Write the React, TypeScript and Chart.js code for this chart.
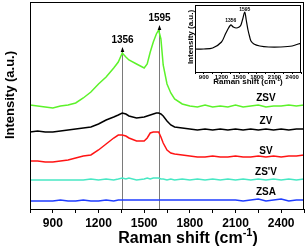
import React, { useEffect, useRef } from "react";
import { Chart, registerables } from "chart.js";

Chart.register(...registerables);

// ---------- data (main panel) ----------
const ramanShift = [
  750, 800, 850, 900, 950, 1000, 1050, 1100, 1150, 1200, 1250, 1300, 1330, 1356, 1380,
  1400, 1450, 1500, 1520, 1540, 1560, 1580, 1595, 1610, 1625, 1650, 1675, 1700, 1750,
  1800, 1850, 1900, 1950, 2000, 2050, 2100, 2150, 2200, 2250, 2300, 2350, 2400, 2450,
  2500, 2550,
];
const zsvIntensity = [
  104, 103, 102, 101, 103, 104, 106, 111, 117, 125, 132, 141, 147, 156, 152,
  149, 145, 141, 145, 157, 167, 175, 179, 170, 144, 125, 116, 110, 105,
  103, 102, 104, 102, 103, 102, 104, 102, 103, 104, 102, 103, 103, 104,
  103, 104,
];
const zvIntensity = [
  77, 78, 77, 77, 78, 79, 80, 81, 82, 85, 89, 92, 94, 96, 95,
  93, 91, 92, 93, 94, 95, 96, 96, 95, 93, 88, 84, 82, 81,
  80, 79, 80, 79, 80, 79, 80, 79, 80, 79, 80, 79, 80, 79,
  80, 80,
];
const svIntensity = [
  48, 48, 47, 47, 48, 49, 51, 53, 54, 59, 65, 71, 74, 74, 73,
  71, 68, 68, 71, 76, 77, 77, 77, 72, 66, 59, 56, 55, 54,
  53, 52, 52, 53, 52, 52, 53, 52, 52, 53, 52, 53, 52, 53,
  53, 54,
];
const zsPrimeVIntensity = [
  29, 29, 29, 29, 29, 29, 29, 29, 30, 29, 30, 29, 30, 31, 30,
  31, 29, 30, 31, 30, 31, 31, 31, 30, 30, 29, 30, 29, 30,
  29, 30, 29, 30, 29, 30, 29, 30, 29, 30, 29, 30, 29, 30,
  29, 30,
];
const zsaIntensity = [
  8, 8, 8, 8, 9, 8, 8, 9, 8, 8, 9, 8, 9, 9, 9,
  9, 9, 9, 9, 9, 9, 9, 9, 9, 9, 9, 9, 9, 9,
  9, 9, 9, 9, 9, 9, 9, 8, 9, 10, 8, 9, 10, 8,
  9, 9,
];
const seriesNames = ["ZSV", "ZV", "SV", "ZS'V", "ZSA"];
const seriesValues = [zsvIntensity, zvIntensity, svIntensity, zsPrimeVIntensity, zsaIntensity];
const seriesColors = ["#5cf22a", "#000000", "#ff1414", "#48e8c4", "#1f3dff"];
const seriesLabelY = [111, 88, 58, 37, 17];
const seriesLabelX = 2300;

const peakShifts = [1356, 1595];
const peakLabels = ["1356", "1595"];
const peakTips = [161, 183];

// ---------- data (inset) ----------
const insetShift = [
  750, 900, 1050, 1200, 1275, 1356, 1400, 1450, 1500, 1530, 1560, 1595, 1620, 1650,
  1675, 1700, 1750, 1850, 2000, 2200, 2400, 2550,
];
const insetIntensity = [
  23, 23, 24, 30, 39, 47, 45, 44, 45, 47, 53, 60, 52, 42,
  36, 31, 28, 26, 25, 25, 26, 29,
];
const insetPeakLabelY = [51, 62];

const xMin = 750;
const xMax = 2550;
const FONT = "'Liberation Sans', Arial, sans-serif";

function drawSupText(
  ctx: CanvasRenderingContext2D,
  cx: number,
  baseline: number,
  size: number,
  pre: string,
  sup: string,
  post: string
) {
  const big = `bold ${size}px ${FONT}`;
  const small = `bold ${Math.round(size * 0.68)}px ${FONT}`;
  ctx.font = big;
  const w1 = ctx.measureText(pre).width;
  const w3 = ctx.measureText(post).width;
  ctx.font = small;
  const w2 = ctx.measureText(sup).width;
  let x = cx - (w1 + w2 + w3) / 2;
  ctx.textAlign = "left";
  ctx.textBaseline = "alphabetic";
  ctx.font = big;
  ctx.fillText(pre, x, baseline);
  x += w1;
  ctx.font = small;
  ctx.fillText(sup, x, baseline - size * 0.42);
  x += w2;
  ctx.font = big;
  ctx.fillText(post, x, baseline);
}

const mainDecor = {
  id: "mainDecor",
  beforeDatasetsDraw(chart: any) {
    const { ctx, chartArea: a, scales } = chart;
    const x = scales.x;
    const y = scales.y;
    ctx.save();
    ctx.strokeStyle = "#7a7a7a";
    ctx.lineWidth = 1;
    peakShifts.forEach((p, i) => {
      const px = Math.round(x.getPixelForValue(p)) + 0.5;
      const top = y.getPixelForValue(peakTips[i]);
      ctx.beginPath();
      ctx.moveTo(px, a.bottom);
      ctx.lineTo(px, top + 2);
      ctx.stroke();
    });
    ctx.restore();
  },
  afterDraw(chart: any) {
    const { ctx, chartArea: a, scales } = chart;
    const x = scales.x;
    const y = scales.y;
    ctx.save();
    // frame
    ctx.strokeStyle = "#000";
    ctx.lineWidth = 1;
    ctx.strokeRect(Math.round(a.left) + 0.5, Math.round(a.top) + 0.5, Math.round(a.right - a.left) - 1, Math.round(a.bottom - a.top));
    // arrowheads & peak labels
    ctx.fillStyle = "#000";
    peakShifts.forEach((p, i) => {
      const px = Math.round(x.getPixelForValue(p)) + 0.5;
      const top = y.getPixelForValue(peakTips[i]);
      ctx.beginPath();
      ctx.moveTo(px, top - 1);
      ctx.lineTo(px - 1.8, top + 4);
      ctx.lineTo(px + 1.8, top + 4);
      ctx.closePath();
      ctx.fill();
      ctx.font = `bold 10px ${FONT}`;
      ctx.textAlign = "center";
      ctx.textBaseline = "middle";
      ctx.fillText(peakLabels[i], px, top - 8);
    });
    // series labels
    ctx.font = `bold 10px ${FONT}`;
    ctx.textAlign = "center";
    ctx.textBaseline = "middle";
    seriesNames.forEach((n, i) => {
      ctx.fillText(n, x.getPixelForValue(seriesLabelX), y.getPixelForValue(seriesLabelY[i]));
    });
    // x title
    drawSupText(ctx, 188, 243, 16, "Raman shift (cm", "-1", ")");
    // y title
    ctx.translate(14, 95);
    ctx.rotate(-Math.PI / 2);
    ctx.font = `bold 13px ${FONT}`;
    ctx.textAlign = "center";
    ctx.textBaseline = "alphabetic";
    ctx.fillText("Intensity (a.u.)", 0, 0);
    ctx.restore();
  },
};

const insetDecor = {
  id: "insetDecor",
  beforeDraw(chart: any) {
    const { ctx, chartArea: a } = chart;
    ctx.save();
    ctx.fillStyle = "#fff";
    ctx.fillRect(a.left, a.top, a.right - a.left, a.bottom - a.top);
    ctx.restore();
  },
  afterDraw(chart: any) {
    const { ctx, chartArea: a, scales } = chart;
    const x = scales.x;
    const y = scales.y;
    ctx.save();
    ctx.strokeStyle = "#000";
    ctx.lineWidth = 1;
    ctx.strokeRect(Math.round(a.left) + 0.5, Math.round(a.top) + 0.5, Math.round(a.right - a.left) - 1, Math.round(a.bottom - a.top));
    ctx.fillStyle = "#000";
    ctx.font = `bold 5px ${FONT}`;
    ctx.textAlign = "center";
    ctx.textBaseline = "middle";
    peakShifts.forEach((p, i) => {
      ctx.fillText(peakLabels[i], x.getPixelForValue(p), y.getPixelForValue(insetPeakLabelY[i]));
    });
    drawSupText(ctx, 68, 84, 8, "Raman shift (cm", "-1", ")");
    ctx.translate(12.5, 37);
    ctx.rotate(-Math.PI / 2);
    ctx.font = `bold 8px ${FONT}`;
    ctx.textAlign = "center";
    ctx.textBaseline = "alphabetic";
    ctx.fillText("Intensity (a.u.)", 0, 0);
    ctx.restore();
  },
};

export default function App() {
  const mainRef = useRef<HTMLCanvasElement | null>(null);
  const insetRef = useRef<HTMLCanvasElement | null>(null);

  useEffect(() => {
    const main = new Chart(mainRef.current as HTMLCanvasElement, {
      type: "line",
      data: {
        datasets: seriesNames.map((n, i) => ({
          label: n,
          data: ramanShift.map((s, k) => ({ x: s, y: seriesValues[i][k] })),
          borderColor: seriesColors[i],
          borderWidth: 1.5,
          pointRadius: 0,
          tension: 0,
          fill: false,
        })),
      },
      options: {
        responsive: false,
        animation: false,
        events: [],
        layout: { padding: { left: 30, right: 2, top: 2, bottom: 0 } },
        plugins: { legend: { display: false }, tooltip: { enabled: false }, title: { display: false } },
        scales: {
          x: {
            type: "linear",
            min: xMin,
            max: xMax,
            afterFit: (s: any) => {
              s.height = 39;
            },
            ticks: {
              stepSize: 150,
              autoSkip: false,
              maxRotation: 0,
              padding: 3,
              color: "#000",
              font: { family: FONT, weight: "bold", size: 12 },
              callback: (v: any) => (Number(v) % 300 === 0 ? String(v) : ""),
            },
            grid: { drawOnChartArea: false, drawTicks: true, tickLength: 4, color: "#000" },
            border: { display: true, color: "#000", width: 1 },
          },
          y: { display: false, min: 0, max: 207 },
        },
      } as any,
      plugins: [mainDecor],
    });

    const inset = new Chart(insetRef.current as HTMLCanvasElement, {
      type: "line",
      data: {
        datasets: [
          {
            label: "inset",
            data: insetShift.map((s, k) => ({ x: s, y: insetIntensity[k] })),
            borderColor: "#000",
            borderWidth: 1.2,
            pointRadius: 0,
            tension: 0.3,
            fill: false,
          },
        ],
      },
      options: {
        responsive: false,
        animation: false,
        events: [],
        layout: { padding: { left: 15, right: 4, top: 5, bottom: 0 } },
        plugins: { legend: { display: false }, tooltip: { enabled: false } },
        scales: {
          x: {
            type: "linear",
            min: xMin,
            max: xMax,
            afterFit: (s: any) => {
              s.height = 20;
            },
            ticks: {
              stepSize: 150,
              autoSkip: false,
              maxRotation: 0,
              padding: 0,
              color: "#000",
              font: { family: FONT, weight: "bold", size: 6 },
              callback: (v: any) => (Number(v) % 300 === 0 ? String(v) : ""),
            },
            grid: { drawOnChartArea: false, drawTicks: true, tickLength: 2, color: "#000" },
            border: { display: true, color: "#000", width: 1 },
          },
          y: { display: false, min: 0, max: 67 },
        },
      } as any,
      plugins: [insetDecor],
    });

    return () => {
      main.destroy();
      inset.destroy();
    };
  }, []);

  return (
    <div style={{ position: "fixed", left: 0, top: 0, width: 307, height: 248, background: "#fff" }}>
      <canvas ref={mainRef} width={307} height={248} style={{ position: "absolute", left: 0, top: 0 }} />
      <canvas ref={insetRef} width={125} height={92} style={{ position: "absolute", left: 180, top: 0 }} />
    </div>
  );
}
